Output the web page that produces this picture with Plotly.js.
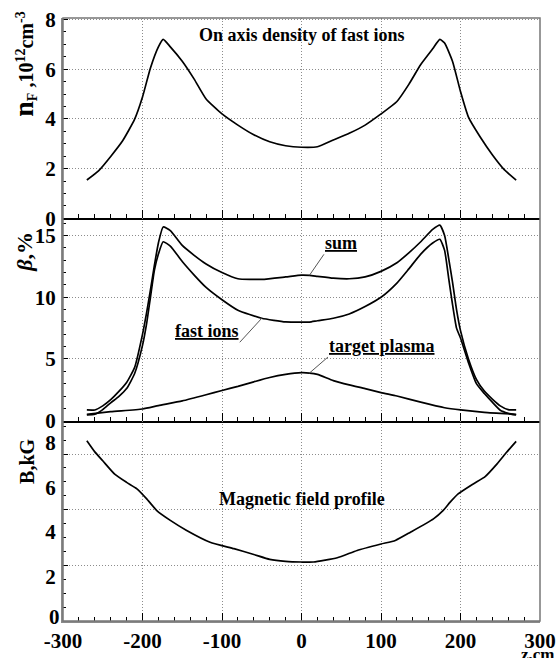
<!DOCTYPE html>
<html><head><meta charset="utf-8">
<script src="https://cdn.plot.ly/plotly-3.0.1.min.js"></script>
<style>html,body{margin:0;padding:0;background:#fff}</style>
</head><body>
<div id="chart" style="width:559px;height:658px"></div>
<script>
// ---- Data ----
// Top panel: on-axis density of fast ions, 10^12 cm^-3
const zN = [-270,-255,-240,-225,-210,-200,-190,-180,-174,-165,-150,-135,-120,-100,-80,-60,-40,-20,0,20,40,60,80,100,120,135,150,165,174,180,190,200,210,225,240,255,270];
const nF = [1.54,1.92,2.49,3.12,3.98,4.88,6.05,6.9,7.2,6.9,6.32,5.6,4.8,4.2,3.75,3.36,3.08,2.92,2.86,2.88,3.15,3.42,3.75,4.2,4.7,5.39,6.19,6.82,7.2,7.05,6.31,5.1,4.07,3.26,2.56,1.96,1.54];

// Middle panel: beta, %
const zB = [-270,-260,-250,-240,-230,-220,-210,-200,-195,-190,-185,-180,-174,-165,-150,-135,-120,-100,-80,-50,-20,0,10,20,40,60,80,100,120,135,150,165,174,180,185,190,195,200,210,220,230,240,250,260,270];
const betaSum = [0.87,0.87,1.2,1.7,2.35,3.1,4.3,7.0,8.7,10.6,12.6,14.4,15.7,15.4,14.2,13.4,12.7,12.0,11.5,11.45,11.65,11.8,11.78,11.7,11.55,11.5,11.65,12.1,12.8,13.6,14.5,15.5,15.85,15.0,13.2,11.2,9.0,7.3,5.0,3.35,2.4,1.75,1.2,0.9,0.87];
const betaFast = [0.46,0.52,0.9,1.45,1.95,2.6,3.8,6.1,7.8,10.0,12.2,13.5,14.5,14.15,12.9,11.8,10.8,9.8,8.95,8.3,8.0,7.98,7.99,8.1,8.3,8.65,9.25,10.0,11.15,12.3,13.5,14.4,14.7,13.8,11.6,9.4,7.5,6.7,4.7,3.0,2.2,1.5,0.85,0.6,0.46];
const zT = [-270,-240,-200,-180,-150,-120,-100,-80,-60,-40,-20,0,10,20,40,60,80,100,120,150,180,200,230,270];
const betaTarget = [0.52,0.73,0.95,1.22,1.6,2.1,2.45,2.78,3.15,3.5,3.75,3.89,3.86,3.75,3.25,2.9,2.6,2.28,2.0,1.5,1.05,0.87,0.68,0.52];

// Bottom panel: magnetic field, kG
const zM = [-270,-260,-250,-235,-220,-207,-195,-182,-165,-145,-115,-85,-60,-40,-20,0,15,45,70,100,118,137,166,178,187,197,216,231,246,258,270];
const bField = [8.1,7.6,7.2,6.6,6.23,5.94,5.5,4.96,4.52,4.08,3.54,3.25,2.99,2.77,2.68,2.65,2.65,2.84,3.17,3.46,3.62,3.99,4.59,4.96,5.34,5.71,6.16,6.49,7.06,7.58,8.07];

// Tick labels
const nTicks = [0,2,4,6,8];
const betaTicks = [0,5,10,15];
const bTicks = [0,2,4,6,8];
const zTicks = [-300,-200,-100,0,100,200,300];

// ---- Styling ----
const FONT = 'Liberation Serif, Times New Roman, serif';
const line = {color:'#000', width:1.7, shape:'spline', smoothing:0.5};
const grid = {showgrid:true, gridcolor:'#8c8c8c', griddash:'1px,2px', gridwidth:1};
const tickFont = {family:FONT, size:21, color:'#000', weight:'bold'};

function xAx(yref, labels, lc, lw){
  return Object.assign({
    range:[-300,300], tickvals:zTicks, ticktext:zTicks.map(String),
    ticks:'inside', ticklen:8, tickcolor:'#000', tickwidth:1,
    minor:{dtick:20, tick0:0, ticks:'inside', ticklen:4, tickcolor:'#000', showgrid:false},
    showticklabels:labels, tickfont:tickFont,
    showline:true, linecolor:lc, linewidth:lw, anchor:yref, zeroline:false, fixedrange:true
  }, grid);
}

const traces = [
  {x:zN, y:nF, xaxis:'x', yaxis:'y', mode:'lines', line:line, hoverinfo:'skip'},
  {x:zB, y:betaSum, xaxis:'x2', yaxis:'y2', mode:'lines', line:line, hoverinfo:'skip'},
  {x:zB, y:betaFast, xaxis:'x2', yaxis:'y2', mode:'lines', line:line, hoverinfo:'skip'},
  {x:zT, y:betaTarget, xaxis:'x2', yaxis:'y2', mode:'lines', line:line, hoverinfo:'skip'},
  {x:zM, y:bField, xaxis:'x3', yaxis:'y4', mode:'lines', line:line, hoverinfo:'skip'}
];

const d1 = (621-420.7)/603, d2 = (621-218.3)/603;
const yBase = {ticks:'inside', ticklen:5, tickcolor:'#000', showline:true, linecolor:'#8a8a8a', linewidth:2,
  zeroline:false, tickfont:tickFont, fixedrange:true, ticklabelstandoff:1};

const iSum = zB.indexOf(10), iFast = zB.indexOf(-50), iTar = zT.indexOf(10);
const annFont = {family:FONT, size:18, color:'#000', weight:'bold'};

const layout = {
  width:559, height:658, margin:{l:63, r:19, t:18, b:37},
  paper_bgcolor:'#fff', plot_bgcolor:'#fff', showlegend:false,
  xaxis: xAx('y', false, '#000', 2),
  xaxis2: xAx('y2', false, '#000', 2),
  xaxis3: xAx('y3', true, '#8a8a8a', 2),
  yaxis: Object.assign({}, yBase, grid, {domain:[d2,1], range:[0,8.06], tickvals:nTicks,
     minor:{dtick:0.5, ticks:'inside', ticklen:3, tickcolor:'#000', showgrid:false}, anchor:'x'}),
  yaxis2: Object.assign({}, yBase, grid, {domain:[d1,d2], range:[0,16.4], tickvals:betaTicks,
     minor:{dtick:1, ticks:'inside', ticklen:3, tickcolor:'#000', showgrid:false}, anchor:'x2'}),
  yaxis3: Object.assign({}, yBase, {domain:[0,d1], range:[0,9], tickvals:bTicks.slice(1), ticks:'', showgrid:false, anchor:'x3'}),
  yaxis4: Object.assign({}, yBase, grid, {overlaying:'y3', range:[0,9], dtick:2.5, tick0:0, showticklabels:false,
     minor:{dtick:0.625, tick0:0, ticks:'inside', ticklen:3, tickcolor:'#000', showgrid:false},
     showline:false, anchor:'x3', side:'left'}),
  shapes:[
    {type:'rect', xref:'paper', yref:'paper', x0:0, x1:1, y0:0, y1:1, line:{color:'#777', width:1.5}, layer:'above'}
  ],
  annotations:[
    // lowest label of the B axis, placed just above the z tick labels so the two do not collide
    {xref:'paper', yref:'paper', x:-0.004, y:0, xanchor:'right', yanchor:'bottom', yshift:-9, borderpad:0,
      text:String(bTicks[0]), showarrow:false, font:tickFont},
    {xref:'x', yref:'y', x:0, y:7.38, text:'On axis density of fast ions', showarrow:false, font:annFont},
    {xref:'x2', yref:'y2', x:zB[iSum], y:betaSum[iSum], text:'<u>sum</u>', showarrow:true, arrowhead:0,
      arrowwidth:1, arrowcolor:'#555', ax:14.5, ay:-21, xanchor:'left', yanchor:'bottom', borderpad:0, font:annFont, standoff:0},
    {xref:'x2', yref:'y2', x:zB[iFast], y:betaFast[iFast], text:'<u>fast ions</u>', showarrow:true, arrowhead:0,
      arrowwidth:1, arrowcolor:'#555', ax:-22, ay:24, xanchor:'right', yanchor:'bottom', borderpad:0, font:annFont, standoff:0},
    {xref:'x2', yref:'y2', x:zT[iTar], y:betaTarget[iTar], text:'<u>target plasma</u>', showarrow:true, arrowhead:0,
      arrowwidth:1, arrowcolor:'#555', ax:18.5, ay:-16, xanchor:'left', yanchor:'bottom', borderpad:0, font:annFont, standoff:0},
    {xref:'x3', yref:'y3', x:0, y:5.5, text:'Magnetic field profile', showarrow:false, font:annFont},
    {xref:'paper', yref:'paper', x:0.995, y:-0.056, xanchor:'center', yanchor:'middle', text:'z,cm', showarrow:false,
      font:{family:FONT, size:17, color:'#000', weight:'bold'}},
    {xref:'paper', yref:'paper', x:-0.082, y:0.924, xanchor:'center', yanchor:'middle', textangle:-90, showarrow:false,
      text:'<span style="font-size:28px">n</span><sub>F</sub> ,10<sup>12</sup>cm<sup>-3</sup>',
      font:{family:FONT, size:20, color:'#000', weight:'bold'}},
    {xref:'paper', yref:'paper', x:-0.08, y:0.612, xanchor:'center', yanchor:'middle', textangle:-90, showarrow:false,
      text:'<i>β</i>,%', font:{family:FONT, size:22, color:'#000', weight:'bold'}},
    {xref:'paper', yref:'paper', x:-0.076, y:0.265, xanchor:'center', yanchor:'middle', textangle:-90, showarrow:false,
      text:'B,kG', font:{family:FONT, size:20, color:'#000', weight:'bold'}}
  ]
};

Plotly.newPlot('chart', traces, layout, {staticPlot:true, displayModeBar:false});
</script>
</body></html>
